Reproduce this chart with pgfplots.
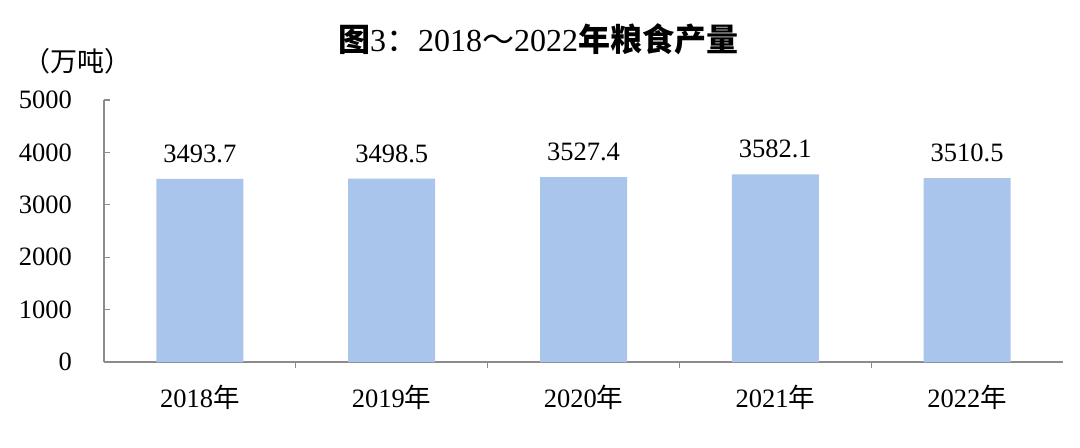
\documentclass[border=0pt]{standalone}
\usepackage{fontspec}
\setmainfont{Liberation Serif}
\newfontfamily\cjk{Noto Sans CJK SC}
\usepackage{pgfplots}
\pgfplotsset{compat=1.18}
\definecolor{barblue}{HTML}{AAC5EB}
\definecolor{axgray}{HTML}{8C8C8C}
\pgfplotstableread{
x y
0 3493.7
1 3498.5
2 3527.4
3 3582.1
4 3510.5
}\grain
\begin{document}
\fontsize{26.5bp}{31bp}\selectfont
\begin{tikzpicture}
\path[use as bounding box] (0,0) rectangle (1080bp,448bp);
\node[font=\fontsize{32bp}{36bp}\selectfont] at (538bp,409bp) {{\cjk\bfseries 图}3{\cjk ：}2018{\cjk ～}2022{\cjk\bfseries 年粮食产量}};
\node[font=\fontsize{27bp}{31bp}\selectfont] at (77bp,387bp) {\cjk （万吨）};
\begin{axis}[
  at={(104bp,86bp)}, anchor=south west,
  scale only axis, width=959bp, height=262bp,
  xmin=-0.5, xmax=4.5, ymin=0, ymax=5000,
  axis x line*=bottom, axis y line*=left,
  axis line style={axgray, line width=1.2bp},
  ytick={0,1000,...,5000},
  xtick={0,...,4},
  xticklabels={2018{\cjk 年},2019{\cjk 年},2020{\cjk 年},2021{\cjk 年},2022{\cjk 年}},
  major x tick style={draw=none},
  minor xtick={0.5,1.5,2.5,3.5},
  every tick/.style={axgray, line width=1.2bp},
  tick align=inside,
  major tick length=6bp, minor tick length=6bp,
  every tick label/.append style={font=\fontsize{26.5bp}{31bp}\selectfont},
  yticklabel style={xshift=-23bp},
  xticklabel style={yshift=-8bp},
  /pgf/number format/1000 sep={},
  /pgf/number format/assume math mode=true,
  ybar, bar width=87bp,
  nodes near coords={\pgfmathprintnumber[fixed,fixed zerofill,precision=1,1000 sep={},assume math mode=true]{\pgfplotspointmeta}},
  every node near coord/.append style={font=\fontsize{26.5bp}{31bp}\selectfont, black, yshift=7bp},
  clip=false,
]
\addplot[fill=barblue, draw=none] table[x=x,y=y] {\grain};
\end{axis}
\end{tikzpicture}
\end{document}
